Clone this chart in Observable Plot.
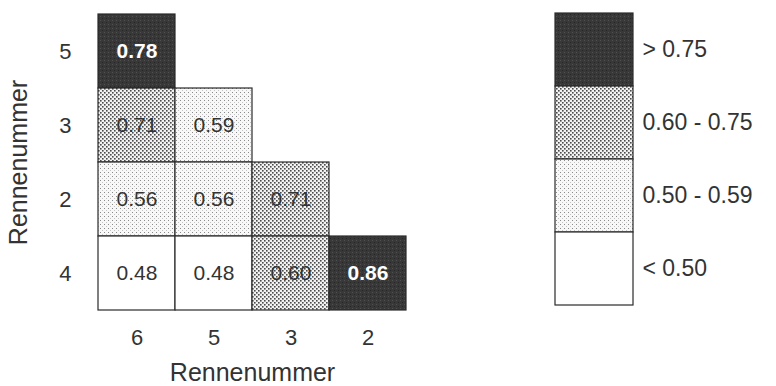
<!DOCTYPE html>
<html>
<head>
<meta charset="utf-8">
<script src="https://cdn.jsdelivr.net/npm/d3@7"></script>
<script src="https://cdn.jsdelivr.net/npm/@observablehq/plot@0.6"></script>
<style>
  html, body { margin: 0; padding: 0; background: #fff; }
  #wrap { display: flex; width: 776px; height: 386px; overflow: hidden; }
  #defs { position: absolute; width: 0; height: 0; }
</style>
</head>
<body>
<svg id="defs" aria-hidden="true">
  <defs>
    <pattern id="pDark" width="4" height="4" patternUnits="userSpaceOnUse">
      <rect width="4" height="4" fill="#383838"></rect>
      <rect x="0" y="0" width="1" height="1" fill="#505050"></rect>
      <rect x="2" y="2" width="1" height="1" fill="#252525"></rect>
    </pattern>
    <pattern id="pMed" width="4" height="4" patternUnits="userSpaceOnUse">
      <rect width="4" height="4" fill="#f2f2f2"></rect>
      <rect x="0" y="0" width="1.6" height="1.6" fill="#4a4a4a"></rect>
      <rect x="2" y="2" width="1.6" height="1.6" fill="#4a4a4a"></rect>
    </pattern>
    <pattern id="pLight" width="4" height="4" patternUnits="userSpaceOnUse">
      <rect width="4" height="4" fill="#f8f8f8"></rect>
      <rect x="0" y="0" width="1" height="1" fill="#8a8a8a"></rect>
      <rect x="2" y="2" width="1" height="1" fill="#c4c4c4"></rect>
    </pattern>
  </defs>
</svg>
<div id="wrap"></div>
<script>
// ---- data ----
const xCategories = ["6", "5", "3", "2"];
const yCategories = ["5", "3", "2", "4"];
const cellX = ["6", "6", "5", "6", "5", "3", "6", "5", "3", "2"];
const cellY = ["5", "3", "3", "2", "2", "2", "4", "4", "4", "4"];
const cellValues = [0.78, 0.71, 0.59, 0.56, 0.56, 0.71, 0.48, 0.48, 0.60, 0.86];
const classLabels = ["> 0.75", "0.60 - 0.75", "0.50 - 0.59", "< 0.50"];
const axisTitle = "Rennenummer";

const classFills = ["url(#pDark)", "url(#pMed)", "url(#pLight)", "#ffffff"];
function classOf(r) {
  if (r > 0.75) return classLabels[0];
  if (r >= 0.60) return classLabels[1];
  if (r >= 0.50) return classLabels[2];
  return classLabels[3];
}
const cells = cellValues.map((r, i) => ({x: cellX[i], y: cellY[i], r, cls: classOf(r)}));
const darkCells = cells.filter(d => d.cls === classLabels[0]);
const otherCells = cells.filter(d => d.cls !== classLabels[0]);

const font = "'Liberation Sans', Arial, Helvetica, sans-serif";

const main = Plot.plot({
  width: 500,
  height: 386,
  marginLeft: 97,
  marginRight: 93,
  marginTop: 14,
  marginBottom: 76,
  style: {fontFamily: font, color: "#333", background: "#fff"},
  x: {domain: xCategories, padding: 0, axis: null},
  y: {domain: yCategories, padding: 0, axis: null},
  color: {domain: classLabels, range: classFills},
  marks: [
    Plot.cell(cells, {x: "x", y: "y", fill: "cls", stroke: "#2b2b2b", strokeWidth: 1.2}),
    Plot.text(otherCells, {x: "x", y: "y", text: d => d.r.toFixed(2), fill: "#333", fontSize: 21}),
    Plot.text(darkCells, {x: "x", y: "y", text: d => d.r.toFixed(2), fill: "#fff", fontSize: 21, fontWeight: "bold"}),
    Plot.axisX({anchor: "bottom", tickSize: 0, tickPadding: 19, fontSize: 22, label: null, fill: "#333"}),
    Plot.axisY({anchor: "left", tickSize: 0, tickPadding: 26, fontSize: 22, label: null, fill: "#333"}),
    Plot.text([axisTitle], {frameAnchor: "bottom", textAnchor: "middle", lineAnchor: "middle", dy: 62, fontSize: 25, fill: "#333"}),
    Plot.text([axisTitle], {frameAnchor: "left", textAnchor: "middle", lineAnchor: "middle", dx: -79, rotate: -90, fontSize: 25, fill: "#333"})
  ]
});

const legend = Plot.plot({
  width: 276,
  height: 386,
  marginLeft: 55,
  marginRight: 143,
  marginTop: 11,
  marginBottom: 80,
  style: {fontFamily: font, color: "#333", background: "#fff"},
  x: {domain: ["k"], padding: 0, axis: null},
  y: {domain: classLabels, padding: 0, axis: null},
  color: {domain: classLabels, range: classFills},
  marks: [
    Plot.cell(classLabels, {x: () => "k", y: d => d, fill: d => d, stroke: "#2b2b2b", strokeWidth: 1.2}),
    Plot.text(classLabels, {x: () => "k", y: d => d, text: d => d, textAnchor: "start", dx: 48, fontSize: 23, fill: "#333"})
  ]
});

const wrap = document.getElementById("wrap");
wrap.appendChild(main);
wrap.appendChild(legend);
</script>
</body>
</html>
